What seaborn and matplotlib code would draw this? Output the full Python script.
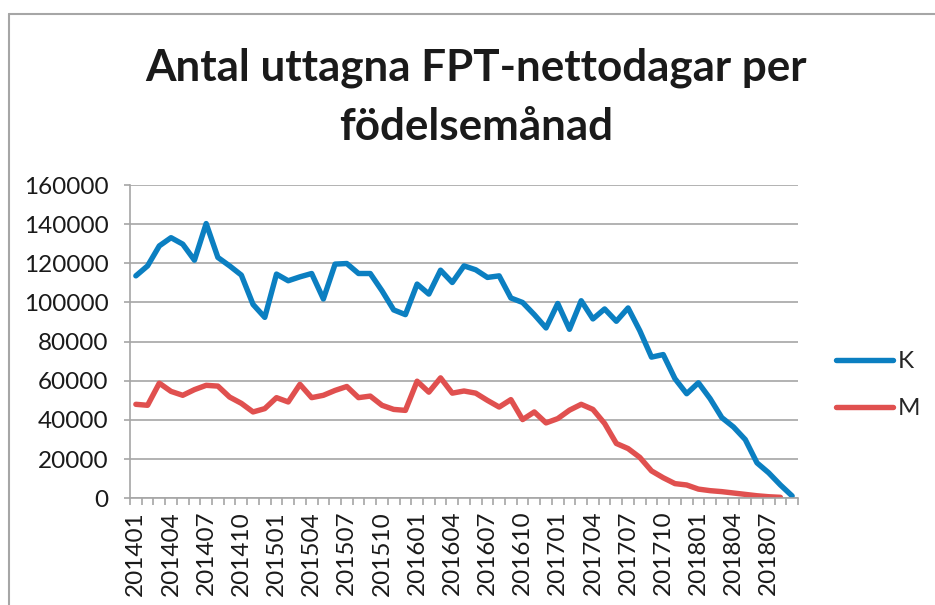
import numpy as np
import pandas as pd
import matplotlib
matplotlib.use("Agg")
import matplotlib.pyplot as plt
from matplotlib.lines import Line2D
import seaborn as sns

# Months 201401 .. 201809
manader = [f"{y}{m:02d}" for y in range(2014, 2019) for m in range(1, 13)][:57]

# Number of FPT net days, women (K) and men (M)
k_dagar = [113600, 118700, 128900, 133100, 129800, 121600, 140300, 123000, 118700, 114000,
           99000, 92400, 114500, 111100, 113100, 114800, 101800, 119600, 119900, 114800,
           114800, 106000, 96200, 93800, 109400, 104300, 116500, 110200, 118700, 116700,
           112800, 113600, 102300, 100000, 93800, 87000, 99500, 86300, 100900, 91600,
           96700, 90400, 97200, 85600, 72100, 73400, 61100, 53400, 59000, 50900,
           41200, 36400, 30000, 18100, 13000, 6800, 1200]
m_dagar = [48000, 47500, 58800, 54600, 52600, 55500, 57700, 57300, 51700, 48500,
           44100, 45800, 51400, 49200, 58200, 51400, 52600, 55100, 57100, 51400,
           52200, 47500, 45400, 44900, 59800, 54200, 61500, 53700, 54800, 53700,
           50000, 46600, 50400, 40200, 44100, 38500, 40700, 45000, 48000, 45400,
           38200, 28000, 25400, 20900, 14000, 10500, 7500, 6800, 4700, 3900,
           3400, 2700, 2000, 1300, 800, 500, np.nan]
serier = ["K", "M"]
farger = {"K": "#0b7fc1", "M": "#e0504f"}

df = pd.DataFrame({
    "pos": list(range(len(manader))) * 2,
    "dagar": k_dagar + m_dagar,
    "kon": ["K"] * len(manader) + ["M"] * len(manader),
})

sns.set_style("white")
plt.rcParams["font.family"] = ["Lato", "DejaVu Sans"]

fig = plt.figure(figsize=(9.35, 6.05), dpi=100)
ax = fig.add_axes([130 / 935, 1 - 498.3 / 605, 668 / 935, 313.3 / 605])

sns.lineplot(data=df, x="pos", y="dagar", hue="kon", palette=farger, linewidth=3.9,
             legend=False, ax=ax, solid_capstyle="round", solid_joinstyle="round")

gc = "#a6a6a6"
ax.set_xlim(-0.5, len(manader) - 0.5)
ax.set_ylim(0, 160000)
ax.set_yticks(range(0, 160001, 20000))
ax.set_yticklabels([str(v) for v in range(0, 160001, 20000)])
ax.set_xticks(range(0, len(manader), 3))
ax.set_xticklabels(manader[::3], rotation=90)
ax.set_xticks(np.arange(-0.5, len(manader), 1), minor=True)
ax.grid(axis="y", color=gc, linewidth=1.2)
ax.set_axisbelow(True)
for s in ["top", "right"]:
    ax.spines[s].set_visible(False)
for s in ["left", "bottom"]:
    ax.spines[s].set_color(gc)
    ax.spines[s].set_linewidth(1.2)
ax.tick_params(axis="y", length=4.5, width=1.2, color=gc, pad=11, labelsize=17.5, labelcolor="#1a1a1a", left=True)
ax.tick_params(axis="x", which="major", length=0, pad=9, labelsize=17.5, labelcolor="#1a1a1a")
ax.tick_params(axis="x", which="minor", length=5, width=1.2, color=gc, bottom=True)
ax.set_xlabel("")
ax.set_ylabel("")

# title
fig.text(476 / 935, 1 - 80 / 605, "Antal uttagna FPT-nettodagar per", ha="center", va="baseline",
         fontsize=31.7, fontweight="bold", color="#1a1a1a")
fig.text(476 / 935, 1 - 140 / 605, "födelsemånad", ha="center", va="baseline",
         fontsize=31.7, fontweight="bold", color="#1a1a1a")

# legend
handles = [Line2D([0], [0], color=farger[s], linewidth=3.9, solid_capstyle="round") for s in serier]
fig.legend(handles, serier, loc="upper left", bbox_to_anchor=(836 / 935, 1 - 351 / 605),
           frameon=False, fontsize=17.5, handlelength=2.35, handletextpad=0.2,
           labelspacing=1.08, borderpad=0, borderaxespad=0)

# chart frame (cut off at right/bottom)
fig.add_artist(Line2D([9 / 935, 9 / 935], [0, 1 - 13.5 / 605], transform=fig.transFigure, color=gc, linewidth=1.5))
fig.add_artist(Line2D([9 / 935, 1], [1 - 13.5 / 605, 1 - 13.5 / 605], transform=fig.transFigure, color=gc, linewidth=1.5))

fig.savefig("out.png", dpi=100)
